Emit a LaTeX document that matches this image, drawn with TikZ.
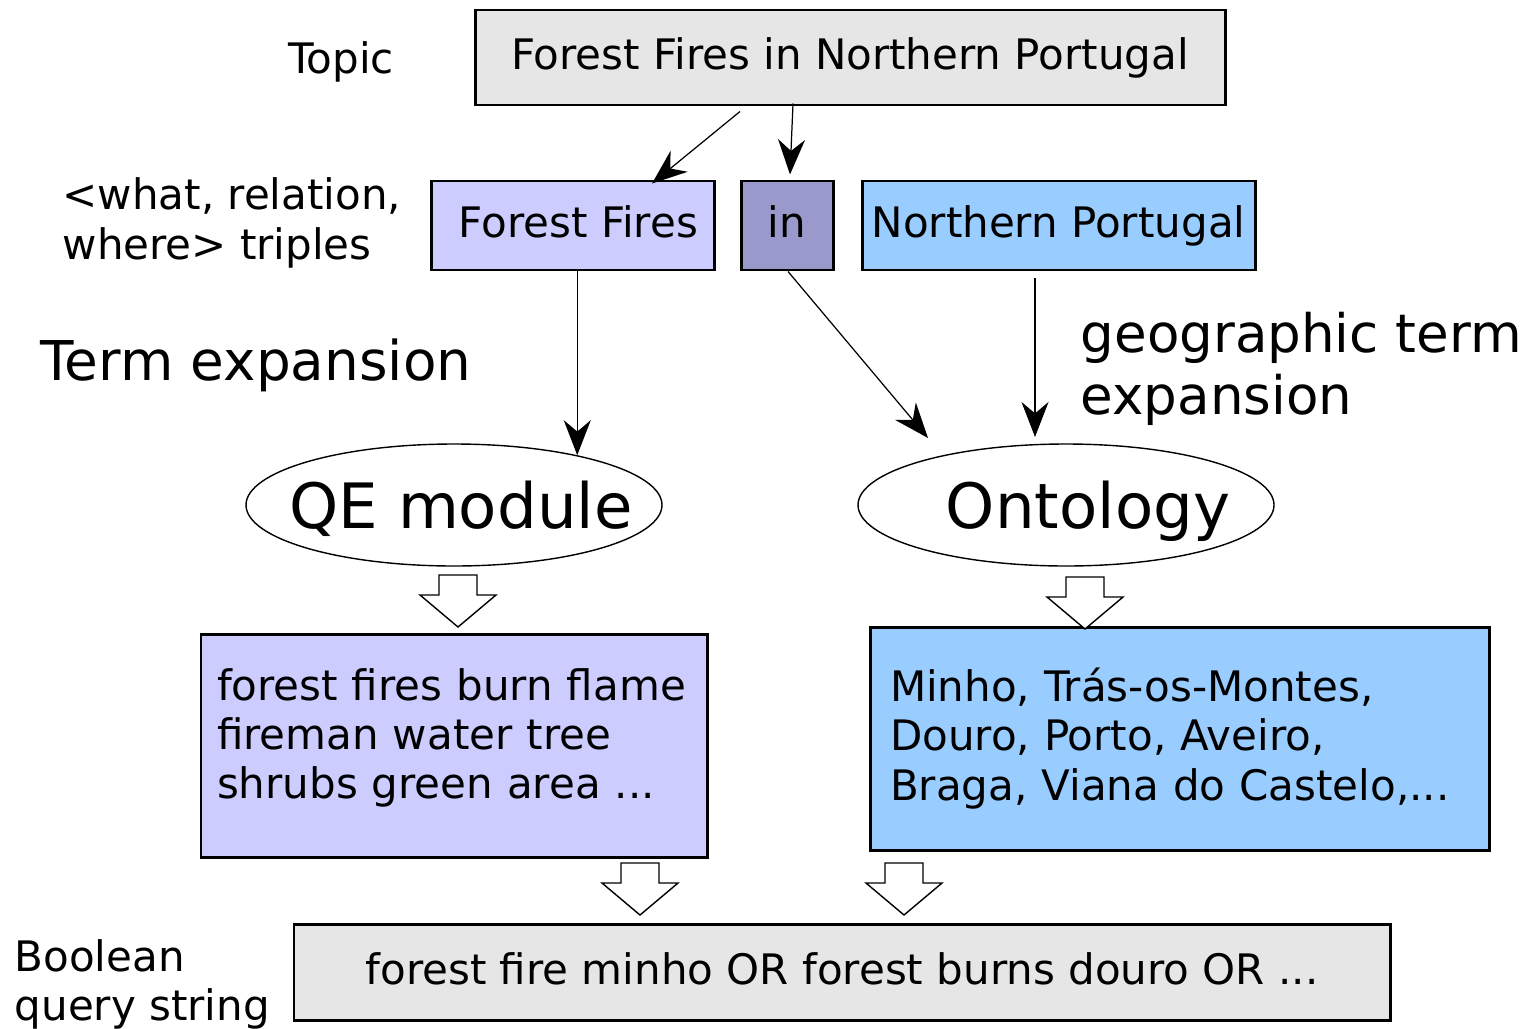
\documentclass[tikz,border=0pt]{standalone}
\usepackage{fontspec}
\setmainfont{DejaVu Sans}
\usepackage{tikz}
\usetikzlibrary{arrows.meta,shapes,positioning,calc}
\usepackage{xcolor}
\definecolor{qegray}{RGB}{230,230,230}
\definecolor{qelavender}{RGB}{204,204,255}
\definecolor{qeslate}{RGB}{153,153,204}
\definecolor{qesky}{RGB}{153,204,255}
\newcommand{\qenormal}{\fontsize{11.95pt}{14pt}\selectfont}
\newcommand{\qebig}{\fontsize{15.1pt}{17.6pt}\selectfont}
\newcommand{\qehuge}{\fontsize{17.8pt}{21pt}\selectfont}
\tikzstyle{arrow} = [line width=0.35pt,-{Stealth[length=3.5mm,width=2.7mm]}]
\tikzstyle{termbox} = [rectangle, draw, line width=0.85pt, minimum height=0.89cm, inner sep=0pt, text height=9.5pt, text depth=2.4pt, font=\qenormal]
\tikzstyle{listbox} = [rectangle, draw, line width=0.85pt, minimum height=2.23cm, inner xsep=0.17cm, align=left, font=\qenormal]
\tikzstyle{module} = [ellipse, draw, line width=0.4pt, minimum width=4.16cm, minimum height=1.22cm, inner xsep=-0.8cm, inner ysep=0pt, text height=15.5pt, text depth=2.4pt, font=\qehuge]
\tikzstyle{caption} = [inner sep=0pt, align=left, font=\qenormal]
\tikzset{blockarrow/.pic={
  \draw[line width=0.4pt, fill=white] (-0.19,0) -- (-0.19,-0.20) -- (-0.38,-0.20) -- (0,-0.52)
    -- (0.38,-0.20) -- (0.19,-0.20) -- (0.19,0) -- cycle;}}

\begin{document}
\begin{tikzpicture}
\useasboundingbox (0,0) rectangle (15.31,-10.28);
% Topic
\node[termbox, fill=qegray, minimum width=7.50cm, minimum height=0.95cm] (topic) at (8.50,-0.575) {Forest Fires in Northern Portugal};
\node[caption] (topiclabel) at (3.41,-0.62) {Topic};
% Triples
\node[termbox, fill=qelavender, minimum width=2.83cm] (what) at (5.725,-2.255) {\hspace*{0.12cm}Forest Fires};
\node[termbox, fill=qeslate, minimum width=0.92cm] (rel) at (7.87,-2.255) {in};
\node[termbox, fill=qesky, minimum width=3.93cm] (where) at (10.585,-2.255) {Northern Portugal};
\node[caption, anchor=west] (tripleslabel) at (0.62,-2.23) {<what, relation,\\where> triples};
% Expansion modules
\node[module] (qe) at (4.54,-5.05) {\hspace*{0.14cm}QE module};
\node[module] (onto) at (10.66,-5.05) {\hspace*{0.44cm}Ontology};
\node[caption, font=\fontsize{15.6pt}{18pt}\selectfont] (termlabel) at (2.56,-3.65) {Term expansion};
\node[caption, font=\qebig, anchor=west] (geolabel) at (10.80,-3.69) {geographic term\\expansion};
% Expanded terms
\node[listbox, fill=qelavender, text width=4.74cm, inner xsep=0.16cm] (qelist) at (4.54,-7.455) {forest fires burn flame\\fireman water tree\\shrubs green area ...\rule[-0.24cm]{0pt}{0pt}};
\node[listbox, fill=qesky, text width=5.79cm, inner xsep=0.20cm] (ontolist) at (11.795,-7.385) {Minho, Trás-os-Montes,\\Douro, Porto, Aveiro,\\Braga, Viana do Castelo,...};
% Query
\node[termbox, fill=qegray, minimum width=10.96cm, minimum height=0.96cm] (query) at (8.42,-9.72) {forest fire minho OR forest burns douro OR ...};
\node[caption, anchor=west] (boollabel) at (0.14,-9.84) {Boolean\\query string};

\draw[arrow] ([xshift=-1.10cm,yshift=-0.05cm]topic.south) -- ([xshift=0.795cm,yshift=-0.04cm]what.north);
\draw[arrow] ([xshift=-0.57cm,yshift=0.03cm]topic.south) -- ([xshift=0.03cm,yshift=0.05cm]rel.north);
\draw[arrow] (what.south -| qe.22.5) -- (qe.22.5);
\draw[arrow] ([xshift=0.01cm]rel.south) -- ($(onto)+(-1.38,0.67)$);
\draw[arrow] ([xshift=-0.235cm,yshift=-0.07cm]where.south) -- ($(onto)+(-0.31,0.68)$);

\pic at (4.58,-5.75) {blockarrow};
\pic at (10.85,-5.77) {blockarrow};
\pic at (6.40,-8.63) {blockarrow};
\pic at (9.04,-8.63) {blockarrow};
\end{tikzpicture}
\end{document}
